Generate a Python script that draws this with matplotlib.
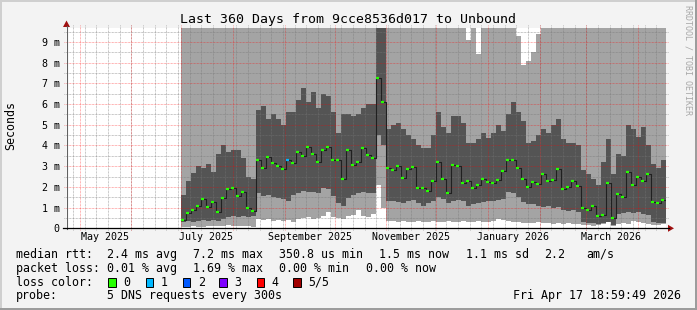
import numpy as np
import pandas as pd
import matplotlib
matplotlib.use("Agg")
import matplotlib.pyplot as plt
from matplotlib.patches import Rectangle, Polygon
from matplotlib.lines import Line2D
import matplotlib.dates as mdates

W, H = 697, 310
plt.rcParams['font.family'] = ['DejaVu Sans Mono']

# smokeping data, 3-day bins from 2025-07-01, values in ms
bin_start = pd.date_range("2025-07-01", periods=97, freq="3D")

rtt_min = [0.05, 0.08, 0.1, 0.08, 0.06, 0.1, 0.12, 0.1, 0.12, 0.15, 0.12, 0.1, 0.12, 0.1, 0.08,
           0.45, 0.4, 0.45, 0.35, 0.4, 0.35, 0.4, 0.3, 0.45, 0.5, 0.55, 0.45, 0.5, 0.6, 0.8,
           0.55, 0.5, 0.45, 0.6, 0.65, 0.9, 0.6, 0.55, 0.7, 2.1, 1.0, 0.35, 0.35, 0.3, 0.35,
           0.3, 0.3, 0.35, 0.3, 0.3, 0.35, 0.3, 0.3, 0.35, 0.3, 0.3, 0.35, 0.3, 0.3, 0.35,
           0.3, 0.3, 0.35, 0.45, 0.4, 0.35, 0.3, 0.3, 0.25, 0.25, 0.25, 0.3, 0.25, 0.25, 0.2,
           0.25, 0.2, 0.25, 0.2, 0.2, 0.15, 0.15, 0.1, 0.15, 0.2, 0.3, 0.1, 0.2, 0.25, 0.2,
           0.35, 0.3, 0.25, 0.2, 0.15, 0.15, 0.2]

smoke_lo = [0.3, 0.35, 0.3, 0.35, 0.4, 0.35, 0.4, 0.35, 0.45, 0.55, 0.6, 0.55, 0.6, 0.55, 0.6,
            1.7, 1.55, 1.6, 1.5, 1.45, 1.4, 1.3, 1.6, 1.7, 1.8, 1.75, 1.75, 1.7, 1.95, 1.9,
            1.55, 1.2, 1.1, 1.45, 1.6, 1.7, 1.75, 1.7, 1.7, 4.5, 4.0, 1.3, 1.3, 1.25, 1.2,
            1.3, 1.35, 1.2, 1.1, 1.2, 1.3, 1.5, 1.4, 1.2, 1.3, 1.35, 1.3, 1.1, 1.15, 1.2,
            1.25, 1.3, 1.3, 1.35, 1.4, 1.75, 1.7, 1.5, 1.25, 1.15, 1.15, 1.1, 1.05, 1.1, 1.0,
            1.05, 0.9, 0.85, 0.9, 0.8, 0.3, 0.25, 0.25, 0.2, 0.25, 0.3, 0.15, 0.7, 0.75, 0.8,
            0.75, 0.8, 0.7, 0.65, 0.3, 0.25, 0.25]

smoke_hi = [1.6, 2.3, 2.65, 3.0, 2.9, 3.1, 2.7, 3.6, 4.0, 3.7, 3.8, 3.8, 3.4, 2.5, 2.4,
            5.7, 5.9, 5.3, 5.5, 5.3, 5.0, 5.6, 5.6, 6.2, 6.8, 6.1, 6.6, 5.8, 6.5, 6.4,
            5.6, 4.6, 5.5, 5.5, 5.4, 5.5, 5.8, 6.0, 6.0, 9.8, 9.8, 4.8, 5.0, 5.1, 4.8,
            4.5, 4.3, 4.0, 3.9, 3.9, 4.5, 5.6, 4.9, 4.6, 5.4, 5.4, 5.1, 4.1, 4.1, 4.3,
            4.6, 4.35, 4.6, 5.0, 4.7, 5.5, 6.1, 5.6, 5.2, 4.1, 4.2, 4.5, 4.8, 4.6, 5.0,
            5.3, 4.3, 4.1, 4.1, 4.0, 2.8, 2.6, 2.4, 2.1, 3.2, 4.3, 2.6, 3.6, 3.5, 5.0,
            4.8, 4.4, 4.9, 4.0, 3.1, 2.9, 3.3]

# bins where the slowest ping stays below the top of the graph
gap_bins = [57, 59, 67, 68, 69, 70, 71]
gap_levels = [9.1, 8.4, 9.3, 7.9, 8.1, 8.5, 9.4]

median = [0.40, 0.75, 0.89, 1.08, 1.40, 1.05, 1.29, 0.80, 1.45, 1.90, 1.93, 1.58, 1.75, 0.97, 0.82,
          3.30, 2.90, 3.42, 3.15, 3.02, 2.85, 3.28, 3.14, 3.70, 3.50, 3.95, 3.60, 3.20, 3.80, 3.95,
          3.30, 3.30, 2.40, 3.78, 3.06, 3.20, 3.90, 3.54, 3.40, 7.24, 6.10, 2.90, 2.80, 3.00, 2.41,
          2.85, 2.98, 1.95, 1.95, 1.80, 2.30, 3.20, 2.38, 1.72, 3.06, 3.00, 2.20, 2.30, 1.95, 2.10,
          2.40, 2.25, 2.20, 2.33, 2.78, 3.30, 3.30, 2.90, 2.40, 2.01, 2.25, 2.15, 2.62, 2.30, 2.35,
          2.86, 1.90, 2.00, 2.30, 2.05, 0.97, 0.90, 1.10, 0.58, 0.64, 2.20, 0.50, 1.65, 1.50, 2.70,
          2.10, 2.50, 2.30, 2.60, 1.25, 1.20, 1.35]

loss = [0] * 97
loss[21] = 1

loss_labels = ['0', '1', '2', '3', '4', '5/5']
loss_colors = ['#26ff00', '#00b8ff', '#0059ff', '#7e00ff', '#ff0000', '#a10000']

end = pd.Timestamp("2026-04-17 18:59:49")
start = end - pd.Timedelta(days=360)
month_labels = ['May 2025', 'July 2025', 'September 2025', 'November 2025',
                'January 2026', 'March 2026']
label_dates = pd.date_range("2025-05-01", periods=6, freq="2MS") + pd.Timedelta(days=15)

LIGHT = '#a4a4a4'
DARK = '#545454'
BG = '#f3f3f3'

fig = plt.figure(figsize=(W / 100, H / 100), dpi=100, facecolor=BG)


def fx(x):
    return x / W


def fy(y):
    return 1 - y / H


# frame shading
fig.add_artist(Rectangle((0, fy(2)), 1, 2 / H, transform=fig.transFigure, color='#cfcfcf', lw=0))
fig.add_artist(Rectangle((0, 0), 2 / W, 1, transform=fig.transFigure, color='#cfcfcf', lw=0))
fig.add_artist(Rectangle((0, 0), 1, 2 / H, transform=fig.transFigure, color='#9c9c9c', lw=0))
fig.add_artist(Rectangle((fx(W - 2), 0), 2 / W, 1, transform=fig.transFigure, color='#9c9c9c', lw=0))

ax = fig.add_axes([fx(66), fy(228.3), 600 / W, 200 / H])
ax.set_facecolor('white')
for s in ax.spines.values():
    s.set_visible(False)

edges = mdates.date2num(list(bin_start) + [bin_start[-1] + pd.Timedelta(days=3)])
top = np.full(len(bin_start), 10.0)
top[gap_bins] = gap_levels


def ext(a):
    a = np.asarray(a, dtype=float)
    return np.append(a, a[-1])


ax.fill_between(edges, ext(rtt_min), ext(smoke_lo), step='post', color=LIGHT, lw=0, antialiased=False, zorder=1)
ax.fill_between(edges, ext(smoke_lo), ext(smoke_hi), step='post', color=DARK, lw=0, antialiased=False, zorder=1)
ax.fill_between(edges, ext(smoke_hi), ext(top), step='post', color=LIGHT, lw=0, antialiased=False, zorder=1)

ax.set_xlim(mdates.date2num(start), mdates.date2num(end))
ax.set_ylim(0, 9.66)

# grid, drawn over the data like rrdtool
dots = (0, (0.72, 0.72))
weeks = pd.date_range(start.ceil('D'), end, freq='W-SUN')
months = pd.date_range("2025-05-01", end, freq='MS')
ax.vlines(mdates.date2num(weeks), -2 / 200, 1 + 3 / 200, transform=ax.get_xaxis_transform(),
          colors='#777777', alpha=0.55, lw=0.72, linestyles=[dots], clip_on=False, zorder=2)
ax.vlines(mdates.date2num(months), -2 / 200, 1 + 3 / 200, transform=ax.get_xaxis_transform(),
          colors='#ff0000', alpha=0.4, lw=0.72, linestyles=[dots], clip_on=False, zorder=2)
minor_y = np.arange(0.5, 9.6, 1.0)
major_y = np.arange(1, 10)
ax.hlines(minor_y, -2 / 600, 1 + 2 / 600, transform=ax.get_yaxis_transform(),
          colors='#777777', alpha=0.55, lw=0.72, linestyles=[dots], clip_on=False, zorder=2)
ax.hlines(major_y, -2 / 600, 1 + 2 / 600, transform=ax.get_yaxis_transform(),
          colors='#ff0000', alpha=0.4, lw=0.72, linestyles=[dots], clip_on=False, zorder=2)

# median line coloured by loss
ax.step(edges, ext(median), where='post', color='#202020', lw=0.8, zorder=3)
ax.hlines(median, edges[:-1], edges[:-1] + 1.8, colors=[loss_colors[l] for l in loss], lw=1.6, zorder=4)

ax.set_yticks(range(10))
ax.set_yticklabels(['0'] + [f'{i} m' for i in range(1, 10)], fontsize=7.2)
ax.set_xticks(mdates.date2num(label_dates))
ax.set_xticklabels(month_labels, fontsize=7.2)
ax.tick_params(axis='both', length=0)
ax.tick_params(axis='y', pad=4.5)
ax.tick_params(axis='x', pad=2.5)

# axis lines with arrows
fig.add_artist(Line2D([fx(66.5), fx(66.5)], [fy(228.8), fy(26)], color='#606060', lw=0.8))
fig.add_artist(Line2D([fx(63), fx(669)], [fy(228.3), fy(228.3)], color='black', lw=0.9))
fig.add_artist(Polygon([(fx(66.5), fy(20.5)), (fx(63), fy(27)), (fx(70), fy(27))],
                       closed=True, transform=fig.transFigure, color='#a01010', lw=0))
fig.add_artist(Polygon([(fx(674), fy(228.3)), (fx(668), fy(224.8)), (fx(668), fy(231.8))],
                       closed=True, transform=fig.transFigure, color='#a01010', lw=0))

fig.text(fx(348), fy(19), 'Last 360 Days from 9cce8536d017 to Unbound', fontsize=9.5,
         ha='center', va='center')
fig.text(fx(11), fy(126), 'Seconds', fontsize=8.4, rotation=90, ha='center', va='center')
fig.text(fx(688), fy(5), 'RRDTOOL / TOBI OETIKER', fontsize=6, rotation=270,
         ha='center', va='top', color='#a8a8a8')

# legend
fs = 8.4
rows = [254.3, 268.3, 282.3, 296]
line1 = [(16, 'median rtt:'), (107.3, '2.4 ms avg'), (193.3, '7.2 ms max'), (279.3, '350.8 us min'),
         (379.3, '1.5 ms now'), (466, '1.1 ms sd'), (544, '2.2'), (586, 'am/s')]
line2 = [(16, 'packet loss:'), (107.3, '0.01 % avg'), (193.3, '1.69 % max'), (279.3, '0.00 % min'),
         (366, '0.00 % now')]
for x, t in line1:
    fig.text(fx(x), fy(rows[0]), t, fontsize=fs, va='center', ha='left')
for x, t in line2:
    fig.text(fx(x), fy(rows[1]), t, fontsize=fs, va='center', ha='left')
fig.text(fx(16), fy(rows[2]), 'loss color:', fontsize=fs, va='center', ha='left')
box_x = [108.3, 145.7, 182.7, 219.3, 256.7, 293.3]
for bx, lab, col in zip(box_x, loss_labels, loss_colors):
    fig.add_artist(Rectangle((fx(bx), fy(rows[2] + 4.5)), 7.5 / W, 9 / H, transform=fig.transFigure,
                             facecolor=col, edgecolor='black', lw=0.7))
    fig.text(fx(bx + 15), fy(rows[2]), lab, fontsize=fs, va='center', ha='left')
fig.text(fx(16), fy(rows[3]), 'probe:', fontsize=fs, va='center', ha='left')
fig.text(fx(107.3), fy(rows[3]), '5 DNS requests every 300s', fontsize=fs, va='center', ha='left')
fig.text(fx(681), fy(rows[3]), 'Fri Apr 17 18:59:49 2026', fontsize=fs, va='center', ha='right')

fig.savefig('out.png', dpi=100, facecolor=BG)
